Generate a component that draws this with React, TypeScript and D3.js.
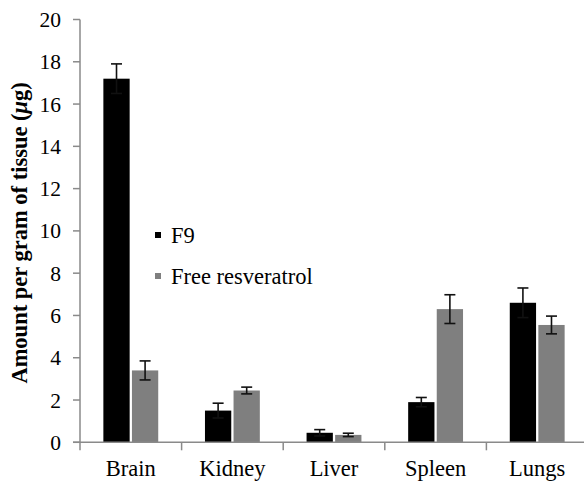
import React from "react";
import * as d3 from "d3";

const organs = ["Brain", "Kidney", "Liver", "Spleen", "Lungs"];
const seriesNames = ["F9", "Free resveratrol"];
const f9Values = [17.2, 1.5, 0.45, 1.9, 6.6];
const f9Errors = [0.7, 0.35, 0.15, 0.22, 0.7];
const freeValues = [3.4, 2.45, 0.35, 6.3, 5.55];
const freeErrors = [0.45, 0.16, 0.08, 0.68, 0.42];
const yTicks = [0, 2, 4, 6, 8, 10, 12, 14, 16, 18, 20];
const seriesColors = ["#000000", "#7f7f7f"];

const W = 584;
const H = 481;
const axisX = 80;
const y0 = 442.3;
const y20 = 19.5;
const FAMILY = "Liberation Serif";
const axisColor = "#8a8a8a";

export default function App() {
  const y = d3.scaleLinear().domain([0, 20]).range([y0, y20]);
  const step = 101.6;
  const x = d3
    .scaleBand<string>()
    .domain(organs)
    .range([axisX, axisX + step * organs.length])
    .paddingInner(0.46)
    .paddingOuter(0.23);
  const xs = d3
    .scaleBand<string>()
    .domain(seriesNames)
    .range([0, x.bandwidth()])
    .paddingInner(0.08);

  const series = [
    { name: seriesNames[0], values: f9Values, errors: f9Errors, color: seriesColors[0] },
    { name: seriesNames[1], values: freeValues, errors: freeErrors, color: seriesColors[1] },
  ];

  const capHalf = 5.5;
  const txt = { fontFamily: `"${FAMILY}"` };

  return (
    <svg width={W} height={H} style={{ position: "absolute", left: 0, top: 0 }}>
      <style>{`.lbl { font-family: "${FAMILY}", "Tinos", serif !important; }`}</style>
      {/* bars */}
      {series.map((s) =>
        organs.map((o, i) => {
          const bx = (x(o) as number) + (xs(s.name) as number);
          const bw = xs.bandwidth();
          return (
            <rect
              key={s.name + o}
              x={bx}
              y={y(s.values[i])}
              width={bw}
              height={y0 - y(s.values[i])}
              fill={s.color}
            />
          );
        })
      )}
      {/* error bars */}
      {series.map((s) =>
        organs.map((o, i) => {
          const cx = (x(o) as number) + (xs(s.name) as number) + xs.bandwidth() / 2;
          const top = y(s.values[i] + s.errors[i]);
          const bot = y(s.values[i] - s.errors[i]);
          return (
            <g key={"e" + s.name + o} stroke="#111" strokeWidth={1.6}>
              <line x1={cx} x2={cx} y1={top} y2={bot} />
              <line x1={cx - capHalf} x2={cx + capHalf} y1={top} y2={top} />
              <line x1={cx - capHalf} x2={cx + capHalf} y1={bot} y2={bot} />
            </g>
          );
        })
      )}
      {/* y axis */}
      <line x1={axisX} x2={axisX} y1={y(20)} y2={y0 + 8} stroke={axisColor} strokeWidth={1.5} />
      {yTicks.map((t) => (
        <g key={"yt" + t}>
          <line x1={axisX - 7} x2={axisX} y1={y(t)} y2={y(t)} stroke={axisColor} strokeWidth={1.5} />
          <text
            className="lbl"
            x={61}
            y={y(t) + 7.5}
            textAnchor="end"
            fontSize={21.5}
            fontFamily={FAMILY}
            style={txt}
          >
            {t}
          </text>
        </g>
      ))}
      {/* x axis */}
      <line x1={axisX - 7} x2={W + 10} y1={y0} y2={y0} stroke={axisColor} strokeWidth={1.5} />
      {organs.map((o) => (
        <g key={"xt" + o}>
          <line
            x1={(x(o) as number) + x.bandwidth() / 2 + step / 2}
            x2={(x(o) as number) + x.bandwidth() / 2 + step / 2}
            y1={y0}
            y2={y0 + 8}
            stroke={axisColor}
            strokeWidth={1.5}
          />
          <text
            className="lbl"
            x={(x(o) as number) + x.bandwidth() / 2}
            y={476}
            textAnchor="middle"
            fontSize={22.5}
            fontFamily={FAMILY}
            style={txt}
          >
            {o}
          </text>
        </g>
      ))}
      {/* y axis title */}
      <text
        className="lbl"
        transform={`translate(27, ${(y0 + y20) / 2 + 2}) rotate(-90)`}
        textAnchor="middle"
        fontSize={22.5}
        fontWeight="bold"
        fontFamily={FAMILY}
        style={txt}
      >
        Amount per gram of tissue (<tspan fontStyle="italic">μ</tspan>g)
      </text>
      {/* legend */}
      {series.map((s, i) => (
        <g key={"lg" + s.name} transform={`translate(155, ${232 + i * 41})`}>
          <rect x={0} y={0} width={6} height={6} fill={s.color} />
          <text className="lbl" x={16} y={11} fontSize={22.5} fontFamily={FAMILY} style={txt}>
            {s.name}
          </text>
        </g>
      ))}
    </svg>
  );
}
